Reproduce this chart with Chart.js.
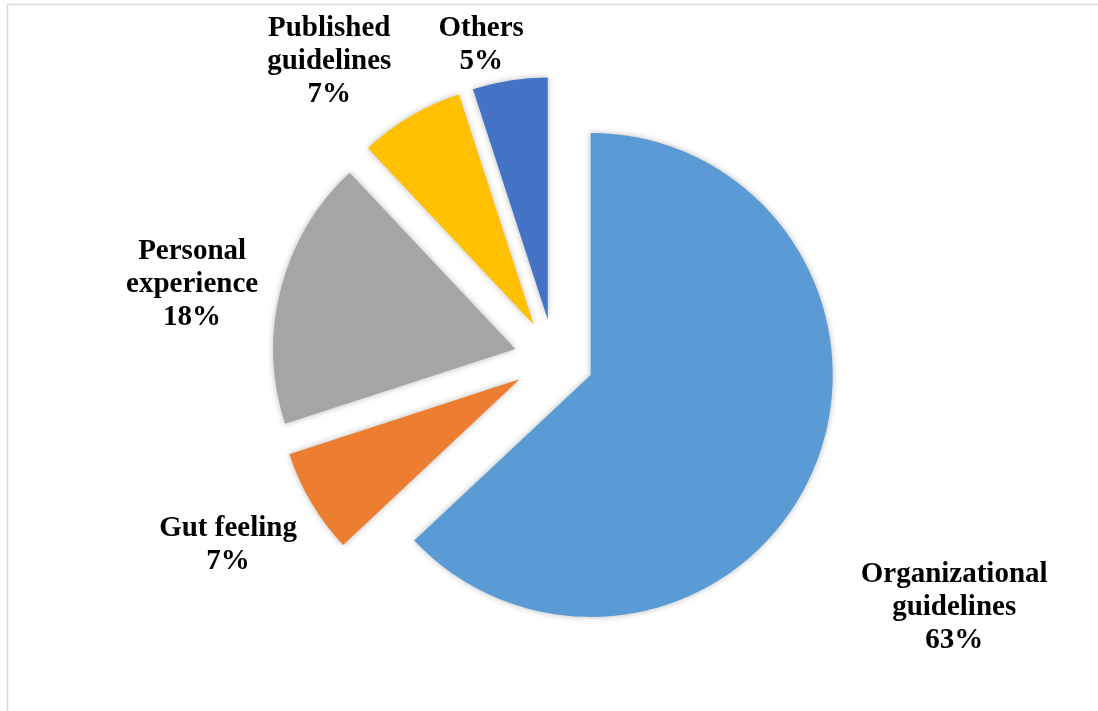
<!DOCTYPE html>
<html>
<head>
<meta charset="utf-8">
<title>Basis for decisions</title>
<script src="https://cdn.jsdelivr.net/npm/chart.js@4.4.1/dist/chart.umd.min.js"></script>
<style>
  html, body { margin: 0; padding: 0; background: #ffffff; }
  #wrap { position: relative; width: 1098px; height: 711px; }
  canvas { display: block; }
</style>
</head>
<body>
<div id="wrap"><canvas id="pie" width="1098" height="711"></canvas></div>
<script>
// Categories (multi-line labels) and their shares in percent
const categories = [
  ['Organizational', 'guidelines'],
  ['Gut feeling'],
  ['Personal', 'experience'],
  ['Published', 'guidelines'],
  ['Others']
];
const shares = [63, 7, 18, 7, 5];

// Slice colours
const sliceColors = ['#5B9BD5', '#ED7D31', '#A5A5A5', '#FFC000', '#4472C4'];

// Label placement: distance from the slice tip and a small turn (degrees) off the slice bisector
const labelDistance = [430, 334, 330, 335, 285];
const labelTurn = [8.9, 1.4, -2.7, -7.0, -4.5];

const EXPLODE = 40;      // every slice pulled out along its bisector
const LINE_H = 33;
const LABEL_FONT = 'bold 29px "Liberation Serif", "Times New Roman", serif';

// Light frame along the top and left edges of the chart
const framePlugin = {
  id: 'frame',
  beforeDraw(chart) {
    const ctx = chart.ctx;
    ctx.save();
    ctx.strokeStyle = '#d9d9d9';
    ctx.lineWidth = 1.5;
    ctx.beginPath();
    ctx.moveTo(7.5, chart.height);
    ctx.lineTo(7.5, 4.5);
    ctx.lineTo(chart.width, 4.5);
    ctx.stroke();
    ctx.restore();
  }
};

// Exploded slices with a soft shadow
const explodePlugin = {
  id: 'explode',
  beforeDatasetsDraw(chart) {
    const meta = chart.getDatasetMeta(0);
    meta.data.forEach(arc => {
      const mid = (arc.startAngle + arc.endAngle) / 2;
      arc.$dx = Math.cos(mid) * EXPLODE;
      arc.$dy = Math.sin(mid) * EXPLODE;
      arc.x += arc.$dx;
      arc.y += arc.$dy;
    });
    const ctx = chart.ctx;
    ctx.save();
    ctx.shadowColor = 'rgba(0,0,0,0.28)';
    ctx.shadowBlur = 6;
    ctx.shadowOffsetX = 0;
    ctx.shadowOffsetY = 0;
  },
  afterDatasetsDraw(chart) {
    chart.ctx.restore();
    const meta = chart.getDatasetMeta(0);
    meta.data.forEach(arc => {
      arc.x -= arc.$dx;
      arc.y -= arc.$dy;
    });
  }
};

// Category name and percentage outside each slice
const labelPlugin = {
  id: 'sliceLabels',
  afterDraw(chart) {
    const ctx = chart.ctx;
    const meta = chart.getDatasetMeta(0);
    const values = chart.data.datasets[0].data;
    ctx.save();
    ctx.font = LABEL_FONT;
    ctx.fillStyle = '#000000';
    ctx.textAlign = 'center';
    ctx.textBaseline = 'alphabetic';
    meta.data.forEach((arc, i) => {
      const mid = (arc.startAngle + arc.endAngle) / 2;
      const tipX = arc.x + Math.cos(mid) * EXPLODE;
      const tipY = arc.y + Math.sin(mid) * EXPLODE;
      const a = mid + labelTurn[i] * Math.PI / 180;
      const cx = tipX + Math.cos(a) * labelDistance[i];
      const cy = tipY + Math.sin(a) * labelDistance[i];
      const lines = chart.data.labels[i].concat([values[i] + '%']);
      const first = cy - (lines.length - 1) * LINE_H / 2 + 10;
      lines.forEach((t, k) => ctx.fillText(t, cx, first + k * LINE_H));
    });
    ctx.restore();
  }
};

new Chart(document.getElementById('pie'), {
  type: 'pie',
  data: {
    labels: categories,
    datasets: [{
      data: shares,
      backgroundColor: sliceColors,
      borderWidth: 0,
      radius: 242
    }]
  },
  options: {
    responsive: false,
    animation: false,
    layout: { padding: { left: 10, right: 0, top: 7, bottom: 0 } },
    plugins: {
      legend: { display: false },
      tooltip: { enabled: false }
    }
  },
  plugins: [framePlugin, explodePlugin, labelPlugin]
});
</script>
</body>
</html>
